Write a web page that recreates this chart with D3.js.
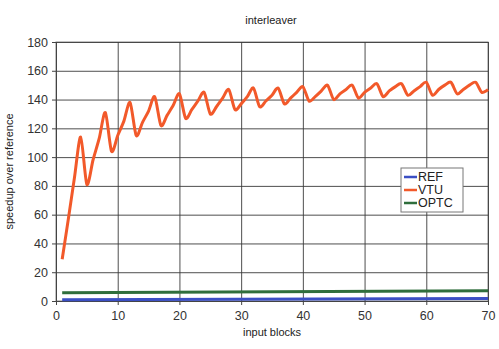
<!DOCTYPE html>
<html>
<head>
<meta charset="utf-8">
<script src="https://cdn.jsdelivr.net/npm/d3@7"></script>
<style>
  body { margin: 0; background: #fff; }
  svg { font-family: "Liberation Sans", Arial, sans-serif; }
</style>
</head>
<body>
<div id="chart"></div>
<script>
// data
var blocks = d3.range(1, 71);
var vtu = [29, 57, 86, 114, 81, 98, 113, 131, 104, 115, 125, 138,
    115, 124, 132, 142, 122, 129, 136, 144, 127, 133, 139, 145,
    130, 135, 141, 147, 133, 137, 142, 148, 135, 139, 143, 148,
    137, 141, 145, 149, 139, 142, 146, 150, 140, 144, 147, 150,
    141, 145, 148, 151, 142, 146, 149, 151, 143, 146, 149, 152,
    143, 147, 150, 152, 144, 147, 150, 152, 145, 147];
var refX = [1, 70];
var ref = [0.8, 1.8];
var optcX = [1, 70];
var optc = [5.8, 7.1];
var xTicks = [0, 10, 20, 30, 40, 50, 60, 70];
var yTicks = [0, 20, 40, 60, 80, 100, 120, 140, 160, 180];

var series = [
    { label: "REF", x: refX, y: ref, color: "#3b4fc4" },
    { label: "VTU", x: blocks, y: vtu, color: "#f2592a" },
    { label: "OPTC", x: optcX, y: optc, color: "#2f6e3c" }
];

var width = 499, height = 349;
var margin = { top: 42, right: 11, bottom: 48, left: 56 },
    innerwidth = width - margin.left - margin.right,
    innerheight = height - margin.top - margin.bottom;

var x_scale = d3.scaleLinear().domain([0, 70]).range([0, innerwidth]);
var y_scale = d3.scaleLinear().domain([0, 180]).range([innerheight, 0]);

var svg = d3.select("#chart").append("svg")
    .attr("width", width)
    .attr("height", height);

svg.append("text")
    .attr("x", 271)
    .attr("y", 24)
    .attr("text-anchor", "middle")
    .style("font-size", "11px")
    .attr("fill", "#222")
    .text("interleaver");

var g = svg.append("g")
    .attr("transform", "translate(" + margin.left + "," + margin.top + ")");

g.append("rect")
    .attr("width", innerwidth)
    .attr("height", innerheight)
    .attr("fill", "#fff")
    .attr("stroke", "#888");

// grid
g.append("g")
    .attr("transform", "translate(0," + innerheight + ")")
    .call(d3.axisBottom(x_scale).tickValues(xTicks).tickSize(-innerheight).tickFormat(""))
    .call(function (a) { a.select(".domain").remove(); a.selectAll("line").attr("stroke", "#3a3a3a").attr("stroke-width", 0.9); });

g.append("g")
    .call(d3.axisLeft(y_scale).tickValues(yTicks).tickSize(-innerwidth).tickFormat(""))
    .call(function (a) { a.select(".domain").remove(); a.selectAll("line").attr("stroke", "#3a3a3a").attr("stroke-width", 0.9); });

// axes
var x_axis = g.append("g")
    .attr("transform", "translate(0," + innerheight + ")")
    .call(d3.axisBottom(x_scale).tickValues(xTicks).tickSize(4).tickPadding(6));
x_axis.select(".domain").attr("stroke", "#444");
x_axis.selectAll("line").attr("stroke", "#444");
x_axis.selectAll("text").style("font-size", "12.5px").attr("fill", "#333");

var y_axis = g.append("g")
    .call(d3.axisLeft(y_scale).tickValues(yTicks).tickSize(4).tickPadding(4));
y_axis.select(".domain").attr("stroke", "#444");
y_axis.selectAll("line").attr("stroke", "#444");
y_axis.selectAll("text").style("font-size", "12.5px").attr("fill", "#333");

svg.append("text")
    .attr("x", margin.left + innerwidth / 2)
    .attr("y", 336)
    .attr("text-anchor", "middle")
    .style("font-size", "11px")
    .attr("fill", "#222")
    .text("input blocks");

svg.append("text")
    .attr("transform", "translate(13," + (margin.top + innerheight / 2) + ") rotate(-90)")
    .attr("text-anchor", "middle")
    .style("font-size", "11px")
    .attr("fill", "#222")
    .text("speedup over reference");

var draw_line = d3.line()
    .x(function (d) { return x_scale(d[0]); })
    .y(function (d) { return y_scale(d[1]); })
    .curve(d3.curveCardinal.tension(0.2));

g.selectAll(".series")
    .data(series)
    .enter().append("path")
    .attr("class", "series")
    .attr("fill", "none")
    .attr("stroke", function (d) { return d.color; })
    .attr("stroke-width", 3)
    .attr("stroke-linejoin", "round")
    .attr("d", function (d) { return draw_line(d3.zip(d.x, d.y)); });

// legend
var legend = svg.append("g").attr("transform", "translate(401,168)");
legend.append("rect")
    .attr("width", 62)
    .attr("height", 44)
    .attr("fill", "#fff")
    .attr("stroke", "#777");
var items = legend.selectAll(".item")
    .data(series)
    .enter().append("g")
    .attr("transform", function (d, i) { return "translate(0," + (9 + i * 13) + ")"; });
items.append("line")
    .attr("x1", 3).attr("x2", 16)
    .attr("stroke", function (d) { return d.color; })
    .attr("stroke-width", 2.5);
items.append("text")
    .attr("x", 17)
    .attr("dy", "0.35em")
    .style("font-size", "12.5px")
    .attr("fill", "#222")
    .text(function (d) { return d.label; });
</script>
</body>
</html>
